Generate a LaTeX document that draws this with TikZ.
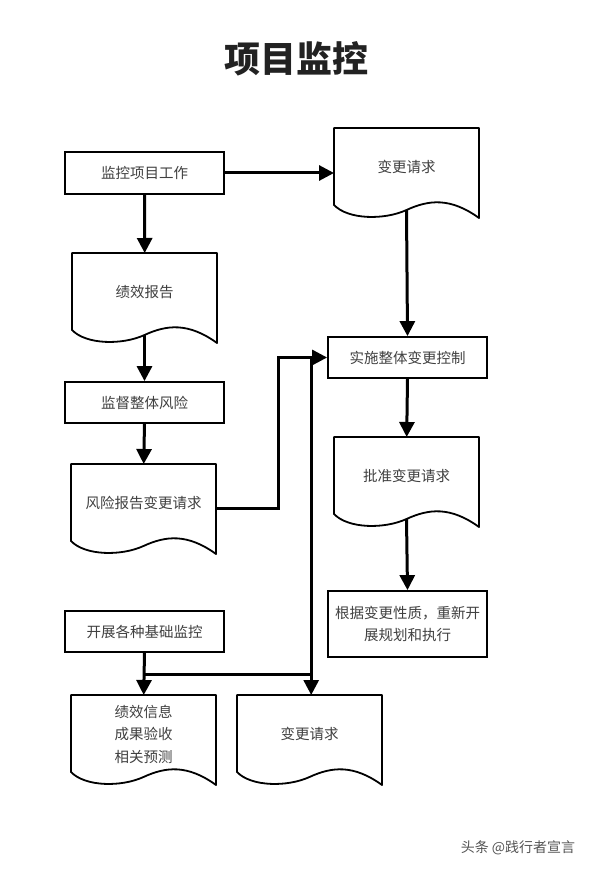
\documentclass[tikz,border=0pt]{standalone}
\usepackage{fontspec}
\setmainfont{Noto Sans CJK SC}
\usetikzlibrary{arrows.meta,calc}
\definecolor{txt}{HTML}{404040}
\definecolor{ttl}{HTML}{222222}
\definecolor{wm}{HTML}{555555}
\tikzset{
  box/.style={draw=black,line width=1.8pt,minimum width=159pt,minimum height=41pt,inner sep=0pt,
    text=txt,font=\fontsize{14.5}{22}\selectfont,align=center},
  docline/.style={draw=black,line width=1.8pt,line join=round},
  doctext/.style={minimum width=145pt,minimum height=78pt,inner sep=0pt,anchor=north west,
    text=txt,font=\fontsize{14.5}{22.5}\selectfont,align=center},
  conn/.style={line width=3pt,-{Triangle[length=15pt,width=15pt]}},
  plainline/.style={line width=3pt},
}
\newcommand\docshape[4]{%
  \draw[docline] (#2,#3) -- ({#2+145},#3) -- ({#2+145},{#3+90})
    .. controls ({#2+116},{#3+69}) and ({#2+94.25},{#3+72}) .. ({#2+72.5},{#3+82})
    .. controls ({#2+50.75},{#3+92}) and ({#2+14.5},{#3+92}) .. (#2,{#3+77}) -- cycle;
  \node[doctext] (#1) at (#2,#3) {#4};
  \coordinate (#1-b) at ({#2+72.5},{#3+82});
}
\begin{document}
\begin{tikzpicture}[x=1pt,y=-1pt]
\fill[white] (0,0) rectangle (594,869);
\useasboundingbox (0,0) rectangle (594,869);

\node[text=ttl,font=\fontsize{36}{40}\selectfont\bfseries] (title) at (296,59) {项目监控};

\node[box,minimum height=42pt] (b1) at (144.5,173) {监控项目工作};
\node[box] (b2) at (144.5,402.5) {监督整体风险};
\node[box] (b3) at (144.5,631.5) {开展各种基础监控};
\node[box] (b4) at (407.5,357.5) {实施整体变更控制};
\node[box,minimum height=66pt] (b5) at (407.5,624) {根据变更性质，重新开\\展规划和执行};

\docshape{d1}{72}{253}{绩效报告}
\docshape{d2}{71}{464}{风险报告变更请求}
\docshape{d3}{71}{695}{绩效信息\\成果验收\\相关预测}
\docshape{d4}{237}{695}{变更请求}
\docshape{d5}{334}{128}{变更请求}
\docshape{d6}{334}{437}{批准变更请求}

\coordinate (bendx) at (278,0);
\coordinate (j1) at (144.5,674);
\coordinate (j2) at ($(d4.north |- b4.west)+(1.5,0)$);
\coordinate (j3) at ($(j1 -| d4.north)+(1.5,0)$);

\draw[conn] (b1.east) -- (b1.east -| d5.west);
\draw[conn] (b1.south) -- (d1.north);
\draw[conn] (d1-b) -- (b2.north);
\draw[conn] (b2.south) -- (d2.north);
\draw[conn] ([yshift=-5pt]d2.east) -| (bendx |- b4.west) -- (b4.west);
\draw[conn] (d5-b) -- (b4.north);
\draw[conn] (b4.south) -- (d6.north);
\draw[conn] (d6-b) -- (b5.north);
\draw[conn] (b3.south) -- (d3.north);
\draw[plainline] (j1) -- (j3);
\draw[conn] (j2) -- (j2 |- d4.north);

\node[text=wm,font=\fontsize{14}{16}\selectfont] (wmark) at (518,848) {头条 @践行者宣言};
\end{tikzpicture}
\end{document}
